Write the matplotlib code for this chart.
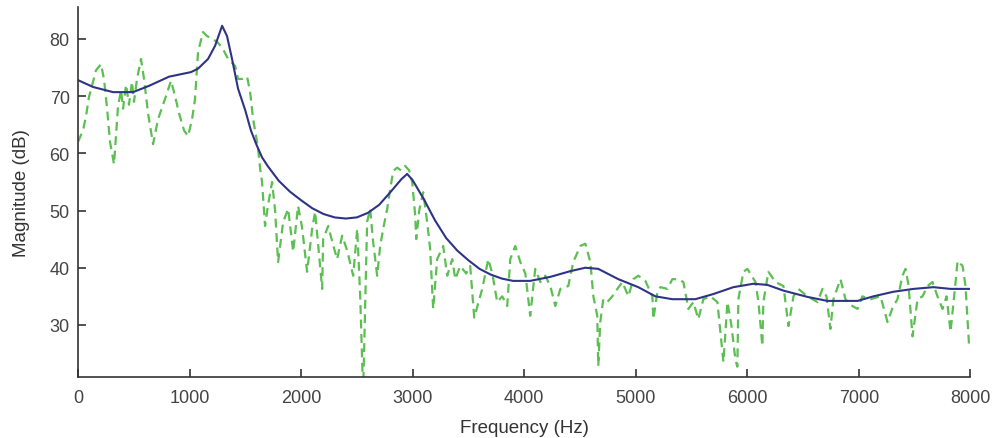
import matplotlib.pyplot as plt

plt.rcParams['font.family'] = ['Liberation Sans', 'DejaVu Sans']

# spectrum (green dashed)
spec_hz = [0, 45, 72, 99, 135, 161, 206, 233, 260, 287, 323, 359, 386, 404, 431, 457,
           484, 502, 529, 565, 592, 628, 673, 718, 753, 789, 834, 870, 906, 951, 987,
           1023, 1049, 1076, 1121, 1157, 1202, 1247, 1292, 1346, 1408, 1435, 1471, 1516,
           1543, 1570, 1615, 1633, 1650, 1677, 1704, 1740, 1767, 1794, 1839, 1884, 1929,
           1973, 2009, 2054, 2099, 2126, 2153, 2189, 2198, 2243, 2287, 2323, 2368, 2413,
           2467, 2503, 2530, 2556, 2592, 2619, 2646, 2682, 2709, 2736, 2772, 2799, 2826,
           2861, 2897, 2933, 2969, 2996, 3023, 3032, 3059, 3095, 3130, 3157, 3184, 3220,
           3274, 3310, 3355, 3382, 3427, 3480, 3516, 3552, 3624, 3678, 3714, 3758, 3803,
           3848, 3875, 3920, 3965, 4010, 4054, 4099, 4144, 4189, 4234, 4279, 4324, 4395,
           4440, 4503, 4548, 4593, 4620, 4655, 4664, 4682, 4709, 4745, 4790, 4835, 4880,
           4934, 4978, 5023, 5086, 5149, 5158, 5194, 5221, 5284, 5328, 5382, 5427, 5472,
           5517, 5561, 5606, 5669, 5732, 5786, 5822, 5857, 5893, 5911, 5920, 5965, 6001,
           6073, 6100, 6135, 6144, 6189, 6252, 6324, 6369, 6414, 6458, 6539, 6629, 6674,
           6710, 6745, 6772, 6835, 6880, 6925, 6988, 7032, 7104, 7194, 7257, 7302, 7346,
           7391, 7418, 7445, 7481, 7526, 7571, 7615, 7660, 7705, 7750, 7786, 7822, 7867,
           7885, 7930, 7956, 7974, 7990]
spec_db = [62.0, 64.0, 66.5, 69.9, 72.5, 74.5, 75.6, 73.0, 68.0, 62.0, 58.1, 68.3, 71.0,
           67.8, 72.0, 68.5, 72.5, 69.0, 73.0, 76.5, 73.0, 67.0, 61.6, 66.0, 68.0, 70.0,
           72.7, 70.0, 67.0, 64.0, 63.0, 66.0, 69.5, 77.7, 81.2, 80.5, 80.0, 79.5, 78.5,
           76.5, 75.3, 73.0, 73.0, 73.4, 70.7, 66.0, 60.8, 57.3, 55.0, 47.3, 51.0, 55.0,
           50.0, 41.0, 48.0, 50.3, 42.8, 50.8, 47.0, 39.3, 46.8, 49.8, 44.0, 36.3, 45.0,
           47.3, 44.0, 41.5, 45.6, 43.0, 38.6, 46.8, 35.0, 18.0, 48.0, 50.3, 44.5, 38.6,
           43.8, 46.8, 50.3, 53.8, 56.9, 57.5, 57.0, 57.8, 57.0, 55.0, 49.1, 45.0, 50.0,
           53.2, 48.0, 43.3, 32.8, 41.5, 43.8, 38.6, 41.5, 38.0, 40.3, 39.0, 40.3, 31.3,
           36.3, 41.5, 39.0, 34.0, 35.0, 33.3, 41.5, 43.8, 41.0, 39.0, 31.6, 39.8, 37.5,
           38.6, 36.8, 33.3, 36.3, 36.8, 41.0, 43.8, 44.2, 41.0, 35.0, 31.6, 22.8, 30.5,
           34.5, 34.0, 35.0, 36.3, 37.5, 35.0, 38.0, 38.6, 37.7, 35.0, 31.0, 35.8, 36.6,
           36.3, 38.0, 38.0, 37.5, 32.8, 34.0, 31.0, 34.5, 35.0, 34.0, 23.5, 34.0, 30.0,
           24.0, 22.7, 34.5, 39.3, 39.8, 37.5, 34.0, 26.3, 34.0, 39.3, 37.5, 36.8, 29.8,
           35.0, 36.3, 35.0, 34.0, 36.3, 35.0, 29.3, 34.5, 38.0, 34.5, 33.5, 32.8, 35.0,
           34.5, 35.0, 30.5, 33.0, 34.5, 38.6, 39.8, 37.0, 28.0, 34.5, 35.0, 36.8, 37.5,
           35.0, 32.8, 35.0, 28.8, 37.5, 41.2, 40.3, 36.8, 31.0, 25.8]

# LPC envelope (blue solid)
env_hz = [0, 135, 314, 493, 637, 816, 1013, 1076, 1166, 1229, 1292, 1336, 1381, 1435,
          1500, 1550, 1600, 1650, 1700, 1750, 1800, 1900, 2000, 2100, 2200, 2300, 2400,
          2500, 2600, 2700, 2800, 2900, 2951, 3000, 3100, 3200, 3300, 3400, 3500, 3600,
          3700, 3800, 3900, 4054, 4234, 4413, 4548, 4664, 4844, 5023, 5176, 5328, 5534,
          5696, 5875, 6055, 6180, 6324, 6539, 6718, 6988, 7131, 7310, 7490, 7669, 7822,
          7990]
env_db = [72.8, 71.6, 70.7, 70.7, 71.8, 73.4, 74.2, 74.8, 76.5, 78.8, 82.3, 80.5, 76.5,
          71.3, 67.5, 64.0, 61.5, 59.3, 57.8, 56.5, 55.2, 53.3, 51.8, 50.4, 49.4, 48.8,
          48.6, 48.8, 49.6, 51.0, 53.2, 55.5, 56.4, 55.3, 52.0, 48.3, 45.2, 43.0, 41.3,
          39.8, 38.8, 38.1, 37.7, 37.7, 38.4, 39.4, 40.0, 39.8, 38.0, 36.6, 35.0, 34.5,
          34.5, 35.4, 36.6, 37.2, 37.0, 36.0, 34.9, 34.2, 34.2, 35.0, 35.8, 36.3, 36.6,
          36.3, 36.3]

fig = plt.figure(figsize=(9.96, 4.39), dpi=100)
ax = fig.add_axes([0.0783, 0.139, 0.896, 0.843])

ax.plot(spec_hz, spec_db, color='#5cbf52', linewidth=1.6, linestyle=(0, (4, 2.5)))
ax.plot(env_hz, env_db, color='#2e3386', linewidth=1.5)

ax.set_xlim(0, 8000)
ax.set_ylim(20.9, 85.6)
ax.set_xticks(range(0, 8001, 1000))
ax.set_yticks([30, 40, 50, 60, 70, 80])

ax.spines['top'].set_visible(False)
ax.spines['right'].set_visible(False)
for s in ('left', 'bottom'):
    ax.spines[s].set_color('#333333')
    ax.spines[s].set_linewidth(1.2)
ax.tick_params(direction='in', length=6, width=1.2, color='#333333',
               labelsize=13, labelcolor='#444444')
ax.tick_params(axis='x', pad=9)
ax.tick_params(axis='y', pad=6)

ax.set_xlabel('Frequency (Hz)', fontsize=13.5, color='#333333', labelpad=9)
ax.set_ylabel('Magnitude (dB)', fontsize=13.5, color='#333333', labelpad=14)

fig.savefig('out.png', dpi=100)
